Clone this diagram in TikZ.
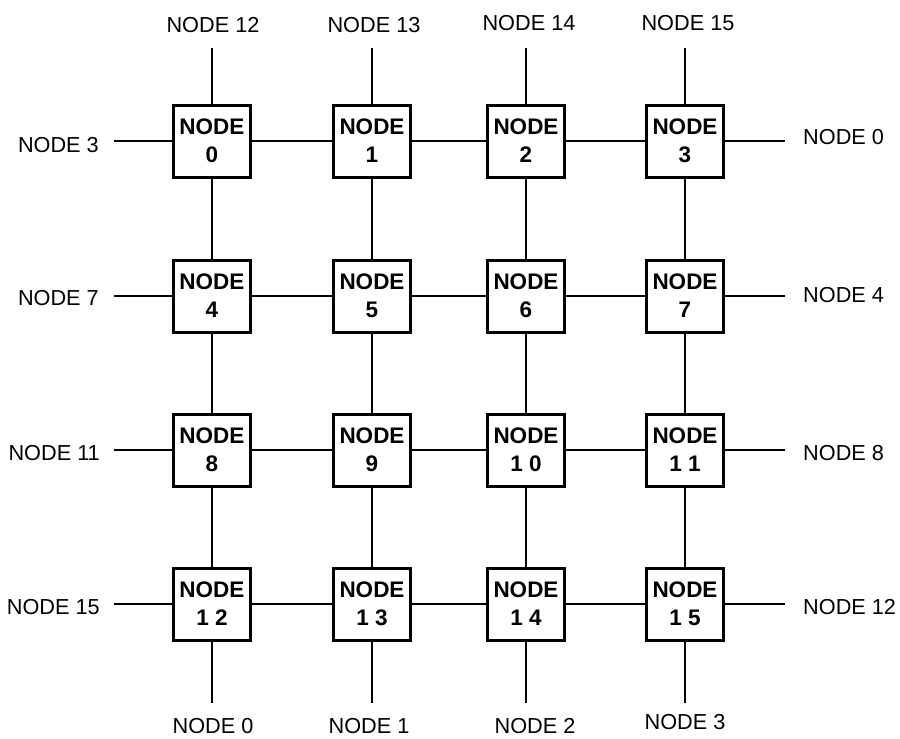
\documentclass[tikz,border=0pt]{standalone}
\usepackage{fontspec}
\setmainfont{Liberation Sans}
\begin{document}
\begin{tikzpicture}[x=1pt,y=-1pt,
  box/.style={draw,line width=3pt,minimum width=77pt,minimum height=72pt,inner sep=0pt,align=center,
    font=\fontsize{22.5}{28}\selectfont\bfseries},
  link/.style={line width=2pt},
  lab/.style={font=\fontsize{21.7}{24}\selectfont,inner sep=0pt}]
\useasboundingbox (0,0) rectangle (900,739);
% boxes
\node[box] (n0)  at (212,141) {NODE\\0};
\node[box] (n1)  at (372,141) {NODE\\1};
\node[box] (n2)  at (526,141) {NODE\\2};
\node[box] (n3)  at (685,141) {NODE\\3};
\node[box] (n4)  at (212,296) {NODE\\4};
\node[box] (n5)  at (372,296) {NODE\\5};
\node[box] (n6)  at (526,296) {NODE\\6};
\node[box] (n7)  at (685,296) {NODE\\7};
\node[box] (n8)  at (212,450) {NODE\\8};
\node[box] (n9)  at (372,450) {NODE\\9};
\node[box] (n10) at (526,450) {NODE\\1 0};
\node[box] (n11) at (685,450) {NODE\\1 1};
\node[box] (n12) at (212,604) {NODE\\1 2};
\node[box] (n13) at (372,604) {NODE\\1 3};
\node[box] (n14) at (526,604) {NODE\\1 4};
\node[box] (n15) at (685,604) {NODE\\1 5};
% inner links
\foreach \a/\b in {0/1,1/2,2/3,4/5,5/6,6/7,8/9,9/10,10/11,12/13,13/14,14/15,
                   0/4,4/8,8/12,1/5,5/9,9/13,2/6,6/10,10/14,3/7,7/11,11/15}
  \draw[link] (n\a) -- (n\b);
% free ends
\foreach \i/\x in {0/212,1/372,2/526,3/685}{
  \coordinate (t\i) at (\x,48);
  \coordinate (b\i) at (\x,703);
}
\foreach \i/\y in {0/141,1/296,2/450,3/604}{
  \coordinate (l\i) at (114,\y);
  \coordinate (r\i) at (785,\y);
}
\draw[link] (n0) -- (t0); \draw[link] (n1) -- (t1); \draw[link] (n2) -- (t2); \draw[link] (n3) -- (t3);
\draw[link] (n12) -- (b0); \draw[link] (n13) -- (b1); \draw[link] (n14) -- (b2); \draw[link] (n15) -- (b3);
\draw[link] (n0) -- (l0); \draw[link] (n4) -- (l1); \draw[link] (n8) -- (l2); \draw[link] (n12) -- (l3);
\draw[link] (n3) -- (r0); \draw[link] (n7) -- (r1); \draw[link] (n11) -- (r2); \draw[link] (n15) -- (r3);
% labels
\node[lab] (tl0) at (213,25) {NODE 12};
\node[lab] (tl1) at (374,25) {NODE 13};
\node[lab] (tl2) at (529,23) {NODE 14};
\node[lab] (tl3) at (688,23) {NODE 15};
\node[lab] (bl0) at (213,726) {NODE 0};
\node[lab] (bl1) at (369,726) {NODE 1};
\node[lab] (bl2) at (535,726) {NODE 2};
\node[lab] (bl3) at (685,722) {NODE 3};
\node[lab,anchor=east] (ll0) at (99,145) {NODE 3};
\node[lab,anchor=east] (ll1) at (99,298) {NODE 7};
\node[lab,anchor=east] (ll2) at (100,453) {NODE 11};
\node[lab,anchor=east] (ll3) at (100,607) {NODE 15};
\node[lab,anchor=west] (rl0) at (803,137) {NODE 0};
\node[lab,anchor=west] (rl1) at (803,295) {NODE 4};
\node[lab,anchor=west] (rl2) at (803,453) {NODE 8};
\node[lab,anchor=west] (rl3) at (803,607) {NODE 12};
\end{tikzpicture}
\end{document}
